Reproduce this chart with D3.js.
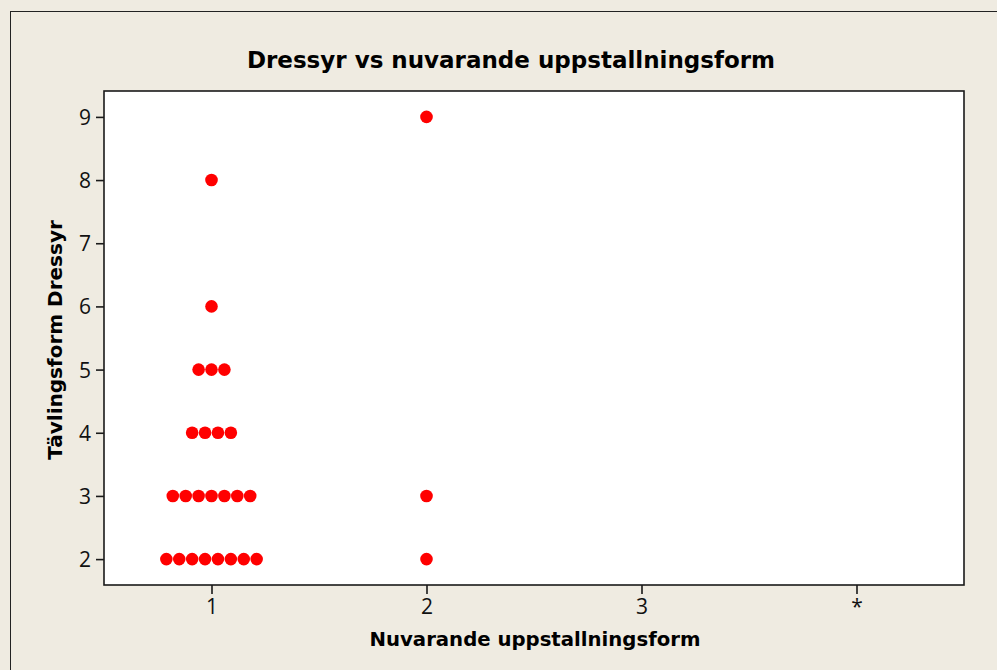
<!DOCTYPE html>
<html>
<head>
<meta charset="utf-8">
<script src="https://cdn.jsdelivr.net/npm/d3@7/dist/d3.min.js"></script>
<style>
  html, body { margin: 0; padding: 0; background: #efebe1; }
  svg { display: block; }
</style>
</head>
<body>
<svg width="997" height="670"></svg>
<script>

// categories on the x axis
var categories = ["1", "2", "3", "*"];

// one entry per horse: current housing form and dressage level
var uppstallning = [
  "1","1","1","1","1","1","1","1",
  "1","1","1","1","1","1","1",
  "1","1","1","1",
  "1","1","1",
  "1",
  "1",
  "2","2","2"
];
var dressyr = [
  2,2,2,2,2,2,2,2,
  3,3,3,3,3,3,3,
  4,4,4,4,
  5,5,5,
  6,
  8,
  2,3,9
];

var yTicks = [2, 3, 4, 5, 6, 7, 8, 9];

var svg = d3.select("svg"),
    W = 997, H = 670,
    plot = {left: 104, top: 91, right: 964, bottom: 585};

svg.append("rect")
    .attr("x", 10.5).attr("y", 11.5)
    .attr("width", W).attr("height", H)
    .attr("fill", "#efebe1")
    .attr("stroke", "#222").attr("stroke-width", 1);

svg.append("rect")
    .attr("x", plot.left).attr("y", plot.top)
    .attr("width", plot.right - plot.left).attr("height", plot.bottom - plot.top)
    .attr("fill", "#fff");

var x = d3.scalePoint()
    .domain(categories)
    .range([plot.left, plot.right])
    .padding(0.5);

var y = d3.scaleLinear()
    .domain([1.59, 9.41])
    .range([plot.bottom, plot.top]);

// points sharing a value get spread sideways (dodge)
var data = uppstallning.map(function(g, i) { return {g: g, v: dressyr[i]}; });
var groups = d3.group(data, function(d) { return d.g + "|" + d.v; });
var step = 12.9;
groups.forEach(function(arr) {
  arr.forEach(function(d, i) { d.off = (i - (arr.length - 1) / 2) * step; });
});

svg.append("g")
  .selectAll("circle")
  .data(data)
  .enter().append("circle")
    .attr("cx", function(d) { return x(d.g) + d.off; })
    .attr("cy", function(d) { return y(d.v); })
    .attr("r", 6.3)
    .attr("fill", "#ff0000");

// frame
svg.append("rect")
    .attr("x", plot.left).attr("y", plot.top)
    .attr("width", plot.right - plot.left).attr("height", plot.bottom - plot.top)
    .attr("fill", "none")
    .attr("stroke", "#1a1a1a").attr("stroke-width", 1.6);

var xAxis = svg.append("g")
    .attr("transform", "translate(0," + plot.bottom + ")")
    .call(d3.axisBottom(x).tickSize(9).tickPadding(5));

var yAxis = svg.append("g")
    .attr("transform", "translate(" + plot.left + ",0)")
    .call(d3.axisLeft(y).tickValues(yTicks).tickFormat(d3.format("d")).tickSize(8).tickPadding(5));

[xAxis, yAxis].forEach(function(a) {
  a.select(".domain").remove();
  a.selectAll(".tick line").attr("stroke", "#1a1a1a").attr("stroke-width", 1.6);
  a.selectAll(".tick text")
    .attr("fill", "#111")
    .style("font-family", "'Open Sans', 'Noto Sans', sans-serif")
    .style("font-size", "21px");
});
yAxis.selectAll(".tick text").attr("dy", "0.36em");

svg.append("text")
    .attr("x", 511).attr("y", 68)
    .attr("text-anchor", "middle")
    .style("font-family", "'DejaVu Sans', Verdana, sans-serif")
    .style("font-weight", "bold")
    .style("font-size", "23px")
    .attr("fill", "#000")
    .text("Dressyr vs nuvarande uppstallningsform");

svg.append("text")
    .attr("x", 535).attr("y", 646)
    .attr("text-anchor", "middle")
    .style("font-family", "'DejaVu Sans', Verdana, sans-serif")
    .style("font-weight", "bold")
    .style("font-size", "19.7px")
    .attr("fill", "#000")
    .text("Nuvarande uppstallningsform");

svg.append("text")
    .attr("transform", "translate(62,340) rotate(-90)")
    .attr("text-anchor", "middle")
    .style("font-family", "'DejaVu Sans', Verdana, sans-serif")
    .style("font-weight", "bold")
    .style("font-size", "20px")
    .attr("fill", "#000")
    .text("Tävlingsform Dressyr");

</script>
</body>
</html>
